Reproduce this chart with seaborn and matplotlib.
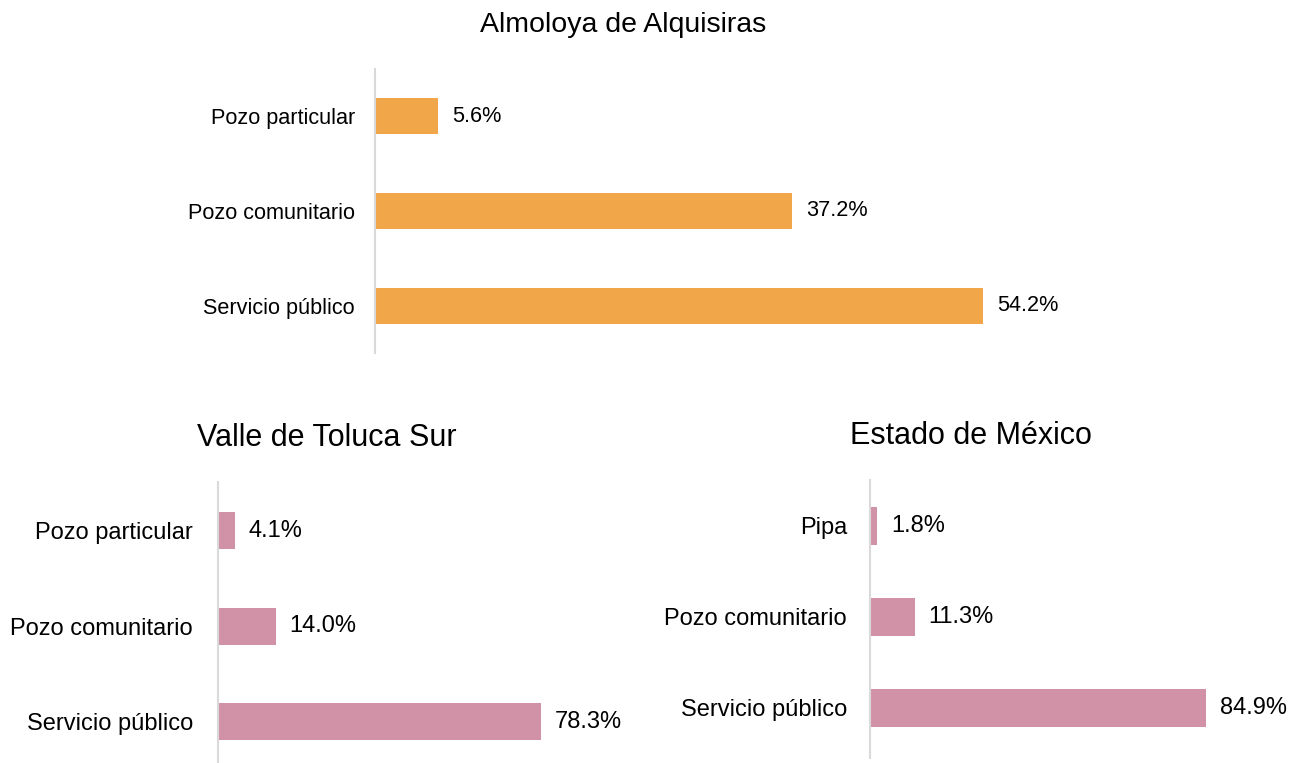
import matplotlib
matplotlib.use("Agg")
import matplotlib.pyplot as plt
import seaborn as sns
import pandas as pd

# Fuente de abastecimiento de agua (% de viviendas)
almoloya_cats = ["Pozo particular", "Pozo comunitario", "Servicio público"]
almoloya_vals = [5.6, 37.2, 54.2]

toluca_cats = ["Pozo particular", "Pozo comunitario", "Servicio público"]
toluca_vals = [4.1, 14.0, 78.3]

edomex_cats = ["Pipa", "Pozo comunitario", "Servicio público"]
edomex_vals = [1.8, 11.3, 84.9]

titles = ["Almoloya de Alquisiras", "Valle de Toluca Sur", "Estado de México"]

ORANGE = "#F2A64A"
PINK = "#D191A6"
AXIS_GRAY = "#D9D9D9"

sns.set_theme(style="white")
plt.rcParams["font.family"] = ["Liberation Sans", "DejaVu Sans"]

W, H = 1301, 763
fig = plt.figure(figsize=(W / 100, H / 100), dpi=100)


def px_axes(x0, y0, x1, y1):
    """Axes placed by pixel box (top-left origin)."""
    return fig.add_axes([x0 / W, 1 - y1 / H, (x1 - x0) / W, (y1 - y0) / H])


def panel(ax, cats, vals, color, xmax, ylim, bar_h, fs, tick_pad):
    df = pd.DataFrame({"cat": cats, "val": vals})
    sns.barplot(data=df, x="val", y="cat", orient="h", color=color,
                width=bar_h, saturation=1, ax=ax, edgecolor="none")
    ax.set_xlim(0, xmax)
    ax.set_ylim(*ylim)
    ax.set_xlabel("")
    ax.set_ylabel("")
    ax.set_xticks([])
    for s in ["top", "right", "bottom"]:
        ax.spines[s].set_visible(False)
    ax.spines["left"].set_color(AXIS_GRAY)
    ax.spines["left"].set_linewidth(1.5)
    ax.tick_params(axis="y", length=0, pad=tick_pad, labelsize=fs, labelcolor="#000000")
    for c in ax.containers:
        ax.bar_label(c, labels=[f"{v:.1f}%" for v in vals], padding=10,
                     fontsize=fs, color="#000000")
    ax.patch.set_alpha(0)


# top panel
ax1 = px_axes(375, 69, 1100, 353)
panel(ax1, almoloya_cats, almoloya_vals, ORANGE, (1100 - 375) / 11.22,
      (2.5, -0.5), 0.38, 15.6, 14.5)

# bottom-left panel
ax2 = px_axes(218, 482, 640, 762)
panel(ax2, toluca_cats, toluca_vals, PINK, (640 - 218) / 4.125,
      (2.42, -0.51), 0.39, 17, 18)

# bottom-right panel
ax3 = px_axes(870, 480, 1300, 758)
panel(ax3, edomex_cats, edomex_vals, PINK, (1300 - 870) / 3.96,
      (2.55, -0.505), 0.41, 17, 16.5)

fig.text(623 / W, 1 - 25 / H, titles[0], ha="center", va="center",
         fontsize=20.5, color="#000000")
fig.text(327 / W, 1 - 438 / H, titles[1], ha="center", va="center",
         fontsize=22, color="#000000")
fig.text(971 / W, 1 - 436 / H, titles[2], ha="center", va="center",
         fontsize=22, color="#000000")

fig.savefig("out.png", dpi=100, facecolor="white")
